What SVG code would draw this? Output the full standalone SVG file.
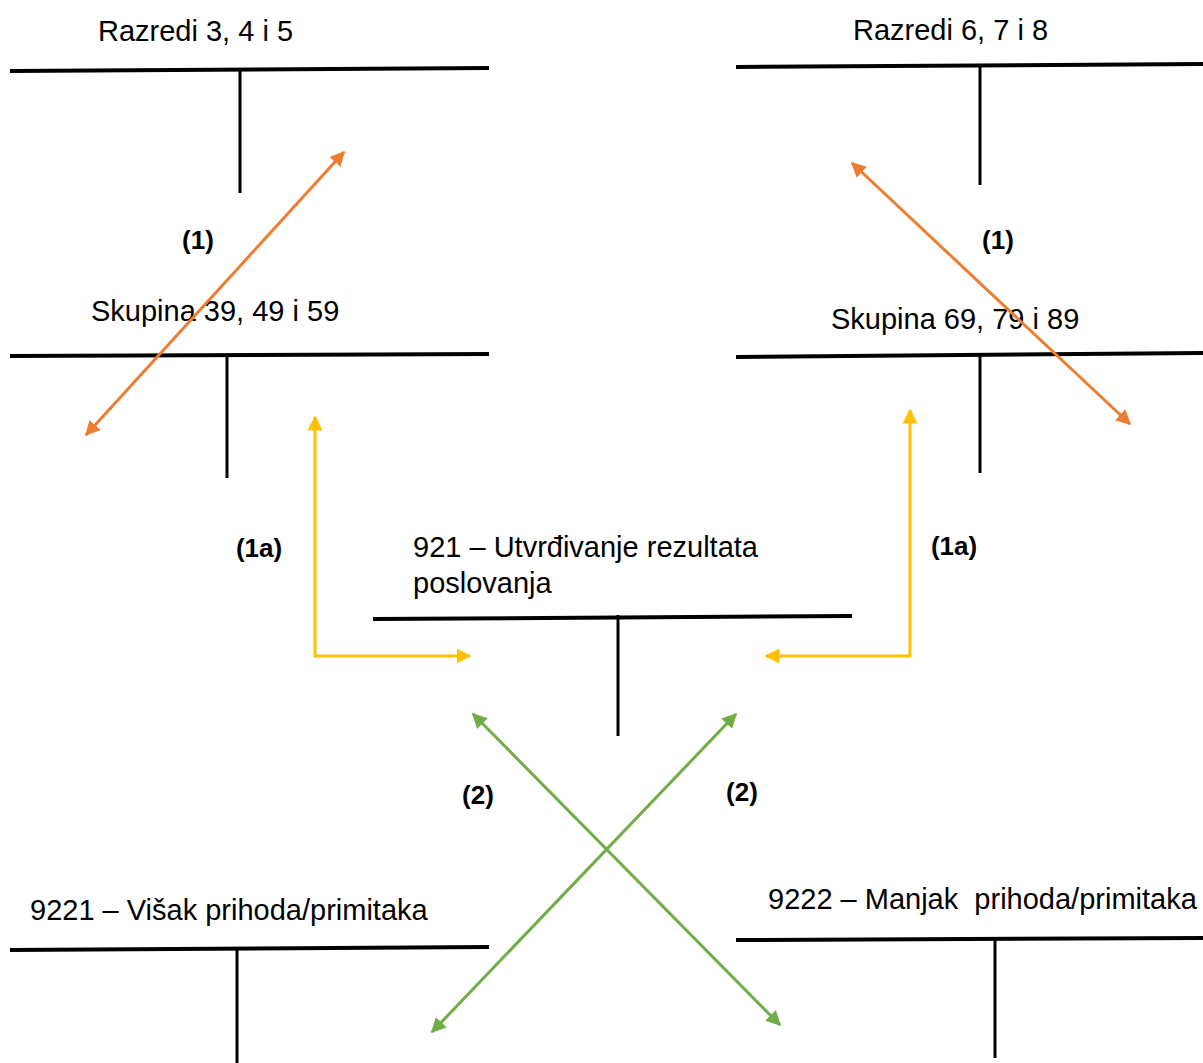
<svg xmlns="http://www.w3.org/2000/svg" width="1203" height="1063" viewBox="0 0 1203 1063">
<style>
.t{font-family:"Liberation Sans",Arial,sans-serif;font-size:29px;fill:#000;white-space:pre}
.b{font-family:"Liberation Sans",Arial,sans-serif;font-size:26px;font-weight:bold;fill:#000;text-anchor:middle}
.h{stroke:#000;stroke-width:4;fill:none}
.v{stroke:#000;stroke-width:3;fill:none}
.o{stroke:#ED7D31;stroke-width:3;fill:none}
.y{stroke:#FFC000;stroke-width:3;fill:none}
.g{stroke:#70AD47;stroke-width:3;fill:none}
</style>
<defs>
<marker id="mo" viewBox="0 0 10 10" refX="9" refY="5" markerWidth="5" markerHeight="5" orient="auto-start-reverse" markerUnits="strokeWidth"><path d="M0,0 L10,5 L0,10 z" fill="#ED7D31"/></marker>
<marker id="my" viewBox="0 0 10 10" refX="9" refY="5" markerWidth="5" markerHeight="5" orient="auto-start-reverse" markerUnits="strokeWidth"><path d="M0,0 L10,5 L0,10 z" fill="#FFC000"/></marker>
<marker id="mg" viewBox="0 0 10 10" refX="9" refY="5" markerWidth="5" markerHeight="5" orient="auto-start-reverse" markerUnits="strokeWidth"><path d="M0,0 L10,5 L0,10 z" fill="#70AD47"/></marker>
</defs>
<rect width="1203" height="1063" fill="#fff"/>
<g id="razredi345">
<text class="t" x="98" y="41">Razredi 3, 4 i 5</text>
<line class="h" x1="10" y1="71" x2="489" y2="68"/>
<line class="v" x1="240" y1="70" x2="240" y2="193"/>
</g>
<g id="razredi678">
<text class="t" x="853" y="40">Razredi 6, 7 i 8</text>
<line class="h" x1="736" y1="67" x2="1203" y2="64"/>
<line class="v" x1="980" y1="64" x2="980" y2="185"/>
</g>
<g id="skupina395959">
<text class="t" x="91" y="321">Skupina 39, 49 i 59</text>
<line class="h" x1="10" y1="356" x2="489" y2="354"/>
<line class="v" x1="227" y1="356" x2="227" y2="478"/>
</g>
<g id="skupina697989">
<text class="t" x="831" y="329">Skupina 69, 79 i 89</text>
<line class="h" x1="736" y1="357" x2="1203" y2="353"/>
<line class="v" x1="980" y1="353" x2="980" y2="473"/>
</g>
<g id="utvrdivanje921">
<text class="t" x="413" y="557">921 – Utvrđivanje rezultata</text>
<text class="t" x="413" y="593">poslovanja</text>
<line class="h" x1="373" y1="619" x2="852" y2="616"/>
<line class="v" x1="618" y1="615" x2="618" y2="736"/>
</g>
<g id="visak9221">
<text class="t" x="30" y="920">9221 – Višak prihoda/primitaka</text>
<line class="h" x1="10" y1="950" x2="489" y2="947"/>
<line class="v" x1="237" y1="950" x2="237" y2="1063"/>
</g>
<g id="manjak9222">
<text class="t" x="768" y="909">9222 – Manjak  prihoda/primitaka</text>
<line class="h" x1="736" y1="940" x2="1203" y2="938"/>
<line class="v" x1="995" y1="940" x2="995" y2="1058"/>
</g>
<g id="connectors">
<line class="o" x1="86" y1="435" x2="344" y2="152" marker-start="url(#mo)" marker-end="url(#mo)"/>
<line class="o" x1="852" y1="163" x2="1130" y2="424" marker-start="url(#mo)" marker-end="url(#mo)"/>
<polyline class="y" points="315,417 315,656 470,656" marker-start="url(#my)" marker-end="url(#my)"/>
<polyline class="y" points="910,410 910,656 766,656" marker-start="url(#my)" marker-end="url(#my)"/>
<line class="g" x1="473" y1="714" x2="780" y2="1025" marker-start="url(#mg)" marker-end="url(#mg)"/>
<line class="g" x1="736" y1="714" x2="432" y2="1032" marker-start="url(#mg)" marker-end="url(#mg)"/>
<text class="b" x="198" y="249">(1)</text>
<text class="b" x="998" y="249">(1)</text>
<text class="b" x="259" y="557">(1a)</text>
<text class="b" x="954" y="555">(1a)</text>
<text class="b" x="478" y="804">(2)</text>
<text class="b" x="742" y="801">(2)</text>
</g>
</svg>
